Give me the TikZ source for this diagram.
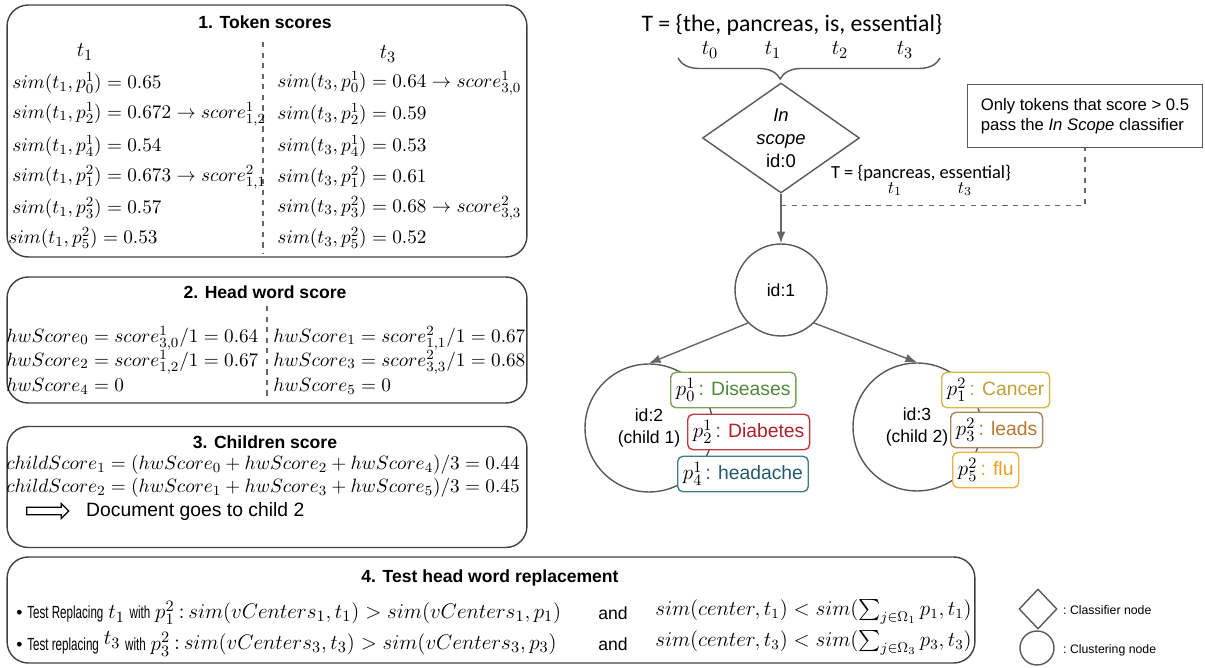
\documentclass[tikz,border=0pt]{standalone}
\usepackage{fontspec}
\setsansfont{Liberation Sans}
\newfontfamily\calfont{Carlito}
\usepackage{amsmath}
\usepackage{graphicx}
\usetikzlibrary{arrows.meta,positioning,calc,shapes.geometric,shapes.arrows,decorations.pathreplacing}

\definecolor{disgreen}{HTML}{4E8A3A}
\definecolor{disgreenb}{HTML}{7DA35A}
\definecolor{diared}{HTML}{B0212A}
\definecolor{diaredb}{HTML}{C0393F}
\definecolor{headteal}{HTML}{245B6B}
\definecolor{headtealb}{HTML}{3E7C8C}
\definecolor{cangold}{HTML}{C0A038}
\definecolor{cangoldb}{HTML}{D8B84A}
\definecolor{leadbrown}{HTML}{B87830}
\definecolor{leadbrownb}{HTML}{A8885A}
\definecolor{fluorange}{HTML}{E8A020}
\definecolor{fluorangeb}{HTML}{F0B040}

\newcommand{\narrowtext}[1]{\scalebox{0.66}[1]{#1}}
\newcommand{\bigmath}[1]{{\fontsize{13}{15}\selectfont$#1$}}

\begin{document}
\begin{tikzpicture}[
    x=0.02cm, y=-0.02cm,
    font=\sffamily\fontsize{10}{12}\selectfont,
    >=Latex,
    flow/.style={->, draw=black!60, line width=0.8pt},
    colsep/.style={draw=black!60, dashed, line width=0.6pt},
    panel/.style={
        draw=black!75,
        line width=0.8pt,
        rounded corners=12pt,
        minimum width=10.4cm
    },
    paneltitle/.style={font=\sffamily\bfseries\fontsize{10}{12}\selectfont},
    eqn/.style={anchor=west, inner sep=0pt, font=\rmfamily\fontsize{11}{13}\selectfont},
    cluster/.style={
        circle,
        draw=black!65,
        line width=0.8pt,
        align=center,
        inner sep=0pt,
        font=\sffamily\fontsize{10}{13}\selectfont
    },
    word/.style={
        draw,
        rounded corners=3pt,
        fill=white,
        line width=0.8pt,
        anchor=west,
        minimum height=0.66cm,
        inner xsep=3pt,
        font=\sffamily\fontsize{11}{12}\selectfont
    },
    legend/.style={anchor=west, font=\sffamily\fontsize{7}{8}\selectfont}
]

% Stable crop.
\path[use as bounding box] (0,0) rectangle (1205,668);

% --------------------------------------------------
% 1. Token scores
% --------------------------------------------------
\node[panel, minimum height=5.04cm] (tokbox) at (267,131) {};
\node[paneltitle] (toktitle) at (265,22) {1. Token scores};
\node[font=\fontsize{13}{15}\selectfont] (hdl) at (85,52) {$t_1$};
\node[font=\fontsize{13}{15}\selectfont] (hdr) at (388,54) {$t_3$};
\coordinate (tokseptop) at (263,42);
\coordinate (toksepbot) at (263,253);
\draw[colsep] (tokseptop) -- (toksepbot);

\node[eqn] (tl1) at (12,83)  {$sim(t_1, p^1_0) = 0.65$};
\node[eqn] (tl2) at (12,114) {$sim(t_1, p^1_2) = 0.672 \rightarrow score^1_{1,2}$};
\node[eqn] (tl3) at (12,146) {$sim(t_1, p^1_4) = 0.54$};
\node[eqn] (tl4) at (12,177) {$sim(t_1, p^2_1) = 0.673 \rightarrow score^2_{1,1}$};
\node[eqn] (tl5) at (12,208) {$sim(t_1, p^2_3) = 0.57$};
\node[eqn] (tl6) at (8,238)  {$sim(t_1, p^2_5) = 0.53$};

\node[eqn] (tr1) at (277,83)  {$sim(t_3, p^1_0) = 0.64 \rightarrow score^1_{3,0}$};
\node[eqn] (tr2) at (277,114) {$sim(t_3, p^1_2) = 0.59$};
\node[eqn] (tr3) at (277,146) {$sim(t_3, p^1_4) = 0.53$};
\node[eqn] (tr4) at (277,177) {$sim(t_3, p^2_1) = 0.61$};
\node[eqn] (tr5) at (277,208) {$sim(t_3, p^2_3) = 0.68 \rightarrow score^2_{3,3}$};
\node[eqn] (tr6) at (277,238) {$sim(t_3, p^2_5) = 0.52$};

% --------------------------------------------------
% 2. Head word score
% --------------------------------------------------
\node[panel, minimum height=2.52cm] (hwbox) at (267,340) {};
\node[paneltitle] (hwtitle) at (265,292) {2. Head word score};
\coordinate (hwseptop) at (267,306);
\coordinate (hwsepbot) at (267,400);
\draw[colsep] (hwseptop) -- (hwsepbot);

\node[eqn] (hw0) at (6,338)   {$hwScore_0 = score^1_{3,0}/1 = 0.64$};
\node[eqn] (hw1) at (273,338) {$hwScore_1 = score^2_{1,1}/1 = 0.67$};
\node[eqn] (hw2) at (6,362)   {$hwScore_2 = score^1_{1,2}/1 = 0.67$};
\node[eqn] (hw3) at (273,362) {$hwScore_3 = score^2_{3,3}/1 = 0.68$};
\node[eqn] (hw4) at (6,386)   {$hwScore_4 = 0$};
\node[eqn] (hw5) at (273,386) {$hwScore_5 = 0$};

% --------------------------------------------------
% 3. Children score
% --------------------------------------------------
\node[panel, minimum height=2.42cm] (chbox) at (267,487) {};
\node[paneltitle] (chtitle) at (265,442) {3. Children score};
\node[eqn] (ch1) at (6,465) {$childScore_1 = (hwScore_0 + hwScore_2 + hwScore_4)/3 = 0.44$};
\node[eqn] (ch2) at (6,488) {$childScore_2 = (hwScore_1 + hwScore_3 + hwScore_5)/3 = 0.45$};
\node[single arrow, draw, line width=0.7pt, minimum height=0.84cm, minimum width=0.3cm,
    single arrow head extend=2pt, inner sep=1.6pt] (goarrow) at (46,511) {};
\node[anchor=west, font=\sffamily\fontsize{11}{13}\selectfont] (gotext) at (80,512) {Document goes to child 2};

% --------------------------------------------------
% 4. Test head word replacement
% --------------------------------------------------
\node[panel, minimum width=19.36cm, minimum height=2.12cm] (testbox) at (491,610) {};
\node[paneltitle] (testtitle) at (490,578) {4. Test head word replacement};

\node[anchor=west, inner sep=0pt] (rep1) at (16,613)
    {\textbullet\ \narrowtext{Test Replacing} \bigmath{t_1} \narrowtext{with} \bigmath{p^2_1}};
\node[eqn, font=\rmfamily\fontsize{12.6}{15}\selectfont, right=2pt of rep1] (rep1a)
    {:$\,sim(vCenters_1, t_1) > sim(vCenters_1, p_1)$};
\node (and1) at (613,613) {and};
\node[eqn, font=\rmfamily\fontsize{12}{14}\selectfont] (rep1b) at (655,612)
    {$sim(center, t_1) < sim(\sum_{j\in\Omega_1} p_1, t_1)$};

\node[anchor=west, inner sep=0pt] (rep2) at (16,644)
    {\textbullet\ \narrowtext{Test replacing} \raisebox{3pt}{\bigmath{t_3}} \narrowtext{with} \bigmath{p^2_3}};
\node[eqn, font=\rmfamily\fontsize{12.6}{15}\selectfont, right=2pt of rep2] (rep2a)
    {:$\,sim(vCenters_3, t_3) > sim(vCenters_3, p_3)$};
\node (and2) at (613,644) {and};
\node[eqn, font=\rmfamily\fontsize{12}{14}\selectfont] (rep2b) at (655,643)
    {$sim(center, t_3) < sim(\sum_{j\in\Omega_3} p_3, t_3)$};

% Legend.
\node[diamond, draw=black!65, line width=0.8pt, minimum width=0.76cm, minimum height=0.8cm,
    inner sep=0pt] (legdia) at (1038,609) {};
\node[legend] (legdiatxt) at (1057,610) {:\ Classifier node};
\node[circle, draw=black!65, line width=0.8pt, minimum size=0.68cm, inner sep=0pt] (legcirc) at (1037,648) {};
\node[legend] (legcirctxt) at (1057,650) {:\ Clustering node};

% --------------------------------------------------
% Tree: token set, classifier and clustering nodes
% --------------------------------------------------
\node[font=\calfont\fontsize{13.5}{16}\selectfont] (tset) at (792,25)
    {T = \{the, pancreas, is, essential\}};
\node[font=\fontsize{13}{15}\selectfont] (t0) at (710,50) {$t_0$};
\node[font=\fontsize{13}{15}\selectfont] (t1) at (773,50) {$t_1$};
\node[font=\fontsize{13}{15}\selectfont] (t2) at (840,50) {$t_2$};
\node[font=\fontsize{13}{15}\selectfont] (t3) at (905,50) {$t_3$};
\coordinate (brl) at (678,58);
\coordinate (brr) at (940,58);
\draw[draw=black!65, line width=0.8pt, decorate,
    decoration={brace, mirror, amplitude=0.42cm, aspect=0.39}] (brl) -- (brr);

\node[diamond, draw=black!65, line width=0.8pt, minimum width=3.14cm, minimum height=2.2cm,
    inner sep=0pt, align=center, font=\sffamily\fontsize{10.5}{13}\selectfont] (inscope)
    at (781,138) {\textit{In}\\\textit{scope}\\id:0};

\node[cluster, minimum size=1.84cm] (root) at (781,290) {id:1};
\node[cluster, minimum size=2.56cm] (child1) at (649,428) {id:2\\(child 1)};
\node[cluster, minimum size=2.56cm] (child2) at (917,427) {id:3\\(child 2)};

\draw[flow] (inscope.south) -- (root.north);
\draw[flow] (root.south west) -- (child1.north);
\draw[flow] (root.south east) -- (child2.north);

% Filtered token set beside the arrow.
\node[font=\calfont\fontsize{10.5}{12}\selectfont] (tfilt) at (921,173)
    {T = \{pancreas, essential\}};
\node[font=\fontsize{10}{12}\selectfont] (ft1) at (895,189) {$t_1$};
\node[font=\fontsize{10}{12}\selectfont] (ft3) at (965,189) {$t_3$};

% Note on the classifier.
\node[draw=black!65, line width=0.8pt, minimum width=4.7cm, minimum height=1.26cm,
    align=left, font=\sffamily\fontsize{9.5}{11.5}\selectfont] (note) at (1085,116)
    {Only tokens that score > 0.5\\pass the \textit{In Scope} classifier};
\coordinate (tap) at ([yshift=-0.24cm]inscope.south);
\draw[colsep] (tap) -| (note.south);

% Head words of each child cluster.
\node[word, draw=disgreenb] (dis) at (670,390) {\bigmath{p^1_0}\,{\color{disgreen}: Diseases}};
\node[word, draw=diaredb] (dia) at (687,432) {\bigmath{p^1_2}\,{\color{diared}: Diabetes}};
\node[word, draw=headtealb] (head) at (677,474) {\bigmath{p^1_4}\,{\color{headteal}: headache}};

\node[word, draw=cangoldb] (can) at (941,390) {\bigmath{p^2_1}\,{\color{cangold}: Cancer}};
\node[word, draw=leadbrownb] (lea) at (950,430) {\bigmath{p^2_3}\,{\color{leadbrown}: leads}};
\node[word, draw=fluorangeb] (flu) at (952,470) {\bigmath{p^2_5}\,{\color{fluorange}: flu}};

\end{tikzpicture}
\end{document}
